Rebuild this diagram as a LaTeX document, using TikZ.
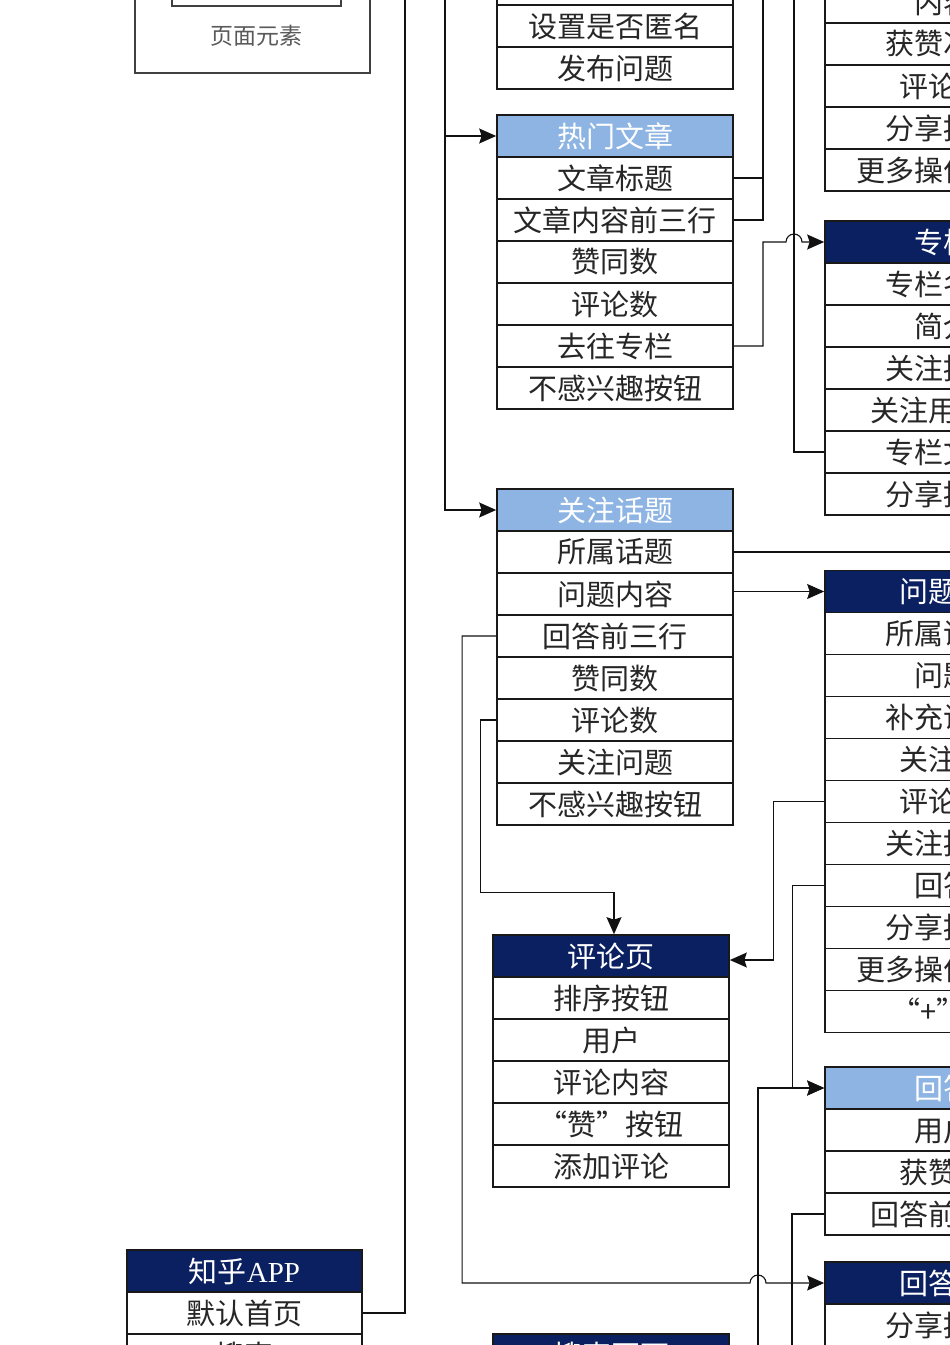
\documentclass[tikz,border=0pt]{standalone}
\usepackage{fontspec}
\setmainfont{Liberation Serif}
\newfontfamily\cjk{Noto Sans CJK SC}
\newfontfamily\lat{Liberation Serif}
\usetikzlibrary{%
  arrows.meta,%
  positioning,%
  calc%
}
\definecolor{navy}{HTML}{0A2060}
\definecolor{lightblue}{HTML}{8DB4E2}
\definecolor{linegray}{HTML}{111111}

\begin{document}
\begin{tikzpicture}[x=1pt, y=-1pt,
  font=\cjk\fontsize{29}{32}\selectfont, >={Stealth[length=17pt,width=15pt,inset=2.5pt]},
  tabrow/.style={rectangle, minimum height=42pt, minimum width=236pt, inner sep=0pt, draw=black!90, line width=1.7pt, fill=white, text=black!85},
  tabhead/.style={tabrow, fill=navy, text=white},
  tabheadlt/.style={tabrow, fill=lightblue, text=white},
  link/.style={draw=linegray, line width=1.1pt}
]
\useasboundingbox (0,0) rectangle (950,1345);
\clip (0,0) rectangle (950,1345);

% legend
\draw[draw=black!75, line width=1.6pt] (135,-60) rectangle (370,73);
\draw[draw=black!75, line width=1.6pt] (172,-60) rectangle (341,6);
\node[font=\cjk\fontsize{23}{25}\selectfont, text=black!65] (legend) at (256,36) {页面元素};

% publish question
\node[tabrow] (pub0) at (615,-16) {};
\node[tabrow] (pub1) at (615,26) {设置是否匿名};
\node[tabrow] (pub2) at (615,68) {发布问题};

% hot articles
\node[tabheadlt] (hot0) at (615,136) {热门文章};
\node[tabrow] (hot1) at (615,178) {文章标题};
\node[tabrow] (hot2) at (615,220) {文章内容前三行};
\node[tabrow] (hot3) at (615,262) {赞同数};
\node[tabrow] (hot4) at (615,304) {评论数};
\node[tabrow] (hot5) at (615,346) {去往专栏};
\node[tabrow] (hot6) at (615,388) {不感兴趣按钮};

% followed topics
\node[tabheadlt] (fol0) at (615,510) {关注话题};
\node[tabrow] (fol1) at (615,552) {所属话题};
\node[tabrow] (fol2) at (615,594) {问题内容};
\node[tabrow] (fol3) at (615,636) {回答前三行};
\node[tabrow] (fol4) at (615,678) {赞同数};
\node[tabrow] (fol5) at (615,720) {评论数};
\node[tabrow] (fol6) at (615,762) {关注问题};
\node[tabrow] (fol7) at (615,804) {不感兴趣按钮};

% comment page
\node[tabhead] (cmt0) at (611,956) {评论页};
\node[tabrow] (cmt1) at (611,998) {排序按钮};
\node[tabrow] (cmt2) at (611,1040) {用户};
\node[tabrow] (cmt3) at (611,1082) {评论内容};
\node[tabrow] (cmt4) at (611,1124) {“赞”按钮};
\node[tabrow] (cmt5) at (611,1166) {添加评论};

% search page
\node[tabhead] (srch0) at (611,1355) {搜索页面};

% app
\node[tabhead, minimum width=235pt] (app0) at (244.5,1271) {知乎{\lat APP}};
\node[tabrow, minimum width=235pt] (app1) at (244.5,1313) {默认首页};
\node[tabrow, minimum width=235pt] (app2) at (244.5,1355) {搜索};

% article page
\node[tabrow] (art0) at (943,2) {内容};
\node[tabrow] (art1) at (943,44) {获赞次数};
\node[tabrow] (art2) at (943,86) {评论数};
\node[tabrow] (art3) at (943,128) {分享按钮};
\node[tabrow] (art4) at (943,170) {更多操作按钮};

% column
\node[tabhead] (col0) at (943,242) {专栏};
\node[tabrow] (col1) at (943,284) {专栏名称};
\node[tabrow] (col2) at (943,326) {简介};
\node[tabrow] (col3) at (943,368) {关注按钮};
\node[tabrow] (col4) at (943,410) {关注用户数};
\node[tabrow] (col5) at (943,452) {专栏文章};
\node[tabrow] (col6) at (943,494) {分享按钮};

% question page
\node[tabhead] (q0) at (943,591.5) {问题页};
\node[tabrow] (q1) at (943,633.5) {所属话题};
\node[tabrow] (q2) at (943,675.5) {问题};
\node[tabrow] (q3) at (943,717.5) {补充说明};
\node[tabrow] (q4) at (943,759.5) {关注数};
\node[tabrow] (q5) at (943,801.5) {评论数};
\node[tabrow] (q6) at (943,843.5) {关注按钮};
\node[tabrow] (q7) at (943,885.5) {回答};
\node[tabrow] (q8) at (943,927.5) {分享按钮};
\node[tabrow] (q9) at (943,969.5) {更多操作按钮};
\node[tabrow] (q10) at (943,1011.5) {“+”号};

% answers
\node[tabheadlt] (ans0) at (943,1088) {回答};
\node[tabrow] (ans1) at (943,1130) {用户};
\node[tabrow] (ans2) at (943,1172) {获赞数};
\node[tabrow] (ans3) at (943,1214) {回答前三行};

% answer page
\node[tabhead] (ansp0) at (943,1283) {回答页};
\node[tabrow] (ansp1) at (943,1325) {分享按钮};
\node[tabrow] (ansp2) at (943,1367) {};

% free ends
\coordinate (appup) at (405,-50);
\coordinate (navup) at (445,-50);
\coordinate (hotup) at (763,-50);
\coordinate (colup) at (794,-50);
\coordinate (topicout) at (1100,552);
\coordinate (hopb) at (750,1283);
\coordinate (ansin) at (758,1400);
\coordinate (ansdown) at (792,1400);

% links
\draw[link] (app1.east) -| (appup);
\draw[link,->] (navup) |- (hot0.west);
\draw[link,->] (navup) |- (fol0.west);
\draw[link] (hot1.east) -| (hotup);
\draw[link] (hot2.east) -| (hotup);
\draw[link,->] (hot5.east) -| (col0.west -| hotup) -- ++(23,0) arc (180:0:8pt) -- (col0.west);
\draw[link] (col5.west) -| (colup);
\draw[link] (fol1.east) -- (topicout);
\draw[link,->] (q0.west -| fol2.east) -- (q0.west);
\draw[link,->] (fol3.west) -- ++(-34,0) |- (hopb) arc (180:0:8pt) -- (ansp0.west);
\draw[link,->] (fol5.west) -- ++(-16,0) |- ($(cmt0.north)+(3,-42)$) -- ($(cmt0.north)+(3,0)$);
\draw[link,->] (q5.west) -- ++(-51,0) |- ($(cmt0.east)+(0,4)$);
\draw[link,->] (q7.west) -- ++(-32,0) |- (ans0.west);
\draw[link,->] (ansin) |- (ans0.west);
\draw[link] (ans3.west) -| (ansdown);
\draw[link,->] (app2.east) -- (srch0.west);
\end{tikzpicture}
\end{document}
